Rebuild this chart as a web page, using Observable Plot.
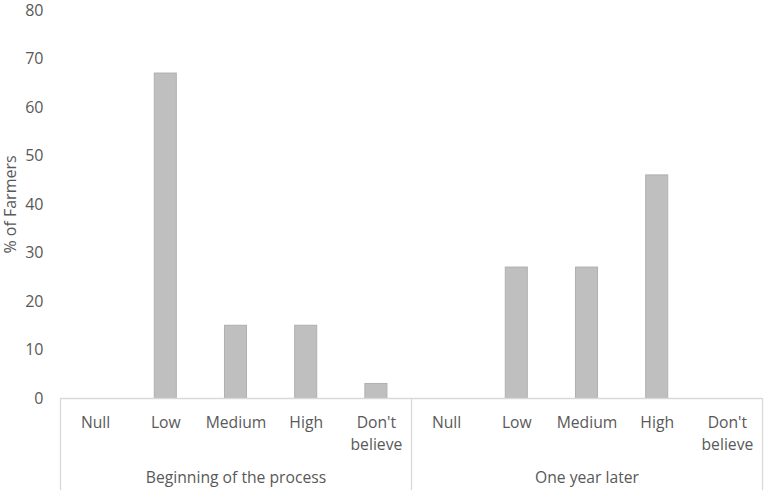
<!DOCTYPE html>
<html>
<head>
<meta charset="utf-8">
<script src="https://cdn.jsdelivr.net/npm/d3@7"></script>
<script src="https://cdn.jsdelivr.net/npm/@observablehq/plot@0.6"></script>
<style>
  html, body { margin: 0; padding: 0; background: #ffffff; }
  #chart svg { display: block; }
</style>
</head>
<body>
<div id="chart"></div>
<script>
const groups = ["Beginning of the process", "One year later"];
const categories = ["Null", "Low", "Medium", "High", "Don't believe"];
const categoryLabels = ["Null", "Low", "Medium", "High", "Don't\nbelieve"];
const beginningValues = [0, 67, 15, 15, 3];
const oneYearLaterValues = [0, 27, 27, 46, 0];
const yTicks = [0, 10, 20, 30, 40, 50, 60, 70, 80];

const seriesByGroup = [beginningValues, oneYearLaterValues];
const data = groups.flatMap((g, gi) =>
  categories.map((c, ci) => ({
    group: g,
    category: c,
    label: categoryLabels[ci],
    slot: gi * categories.length + ci,
    value: seriesByGroup[gi][ci]
  }))
);
const nSlots = data.length;
const separators = groups.map((g, gi) => gi * categories.length).concat([nSlots]);
const halfBar = 0.157;
const textColor = "#595959";
const font = "'Open Sans', sans-serif";

const chart = Plot.plot({
  width: 765,
  height: 497,
  marginLeft: 60,
  marginRight: 3,
  marginTop: 10,
  marginBottom: 99,
  style: { fontFamily: font, fontSize: "15px", color: textColor, background: "#ffffff" },
  x: { type: "linear", domain: [0, nSlots], axis: null },
  y: { domain: [0, 80], axis: null },
  marks: [
    Plot.rectY(data.filter(d => d.value > 0), {
      x1: d => d.slot + 0.5 - halfBar,
      x2: d => d.slot + 0.5 + halfBar,
      y: "value",
      fill: "#bfbfbf",
      stroke: "#b0b0b0",
      strokeWidth: 1
    }),
    Plot.ruleY([0], { stroke: "#d9d9d9", strokeWidth: 1.3 }),
    Plot.ruleX(separators, { y1: 0, y2: -19, stroke: "#d9d9d9", strokeWidth: 1.3 }),
    Plot.axisY(yTicks, {
      tickSize: 0,
      tickPadding: 17,
      fontSize: 16,
      fill: textColor,
      label: "% of Farmers",
      labelAnchor: "center",
      labelArrow: "none",
      labelOffset: 56
    }),
    Plot.text(data, {
      x: d => d.slot + 0.5,
      text: "label",
      frameAnchor: "bottom",
      lineAnchor: "top",
      dy: 14,
      lineHeight: 1.38,
      fontSize: 15.7,
      fill: textColor
    }),
    Plot.text(groups, {
      x: (d, i) => i * categories.length + categories.length / 2,
      text: d => d,
      frameAnchor: "bottom",
      lineAnchor: "top",
      dy: 73,
      fontSize: 15.7,
      fill: textColor
    })
  ]
});
document.getElementById("chart").appendChild(chart);
</script>
</body>
</html>
